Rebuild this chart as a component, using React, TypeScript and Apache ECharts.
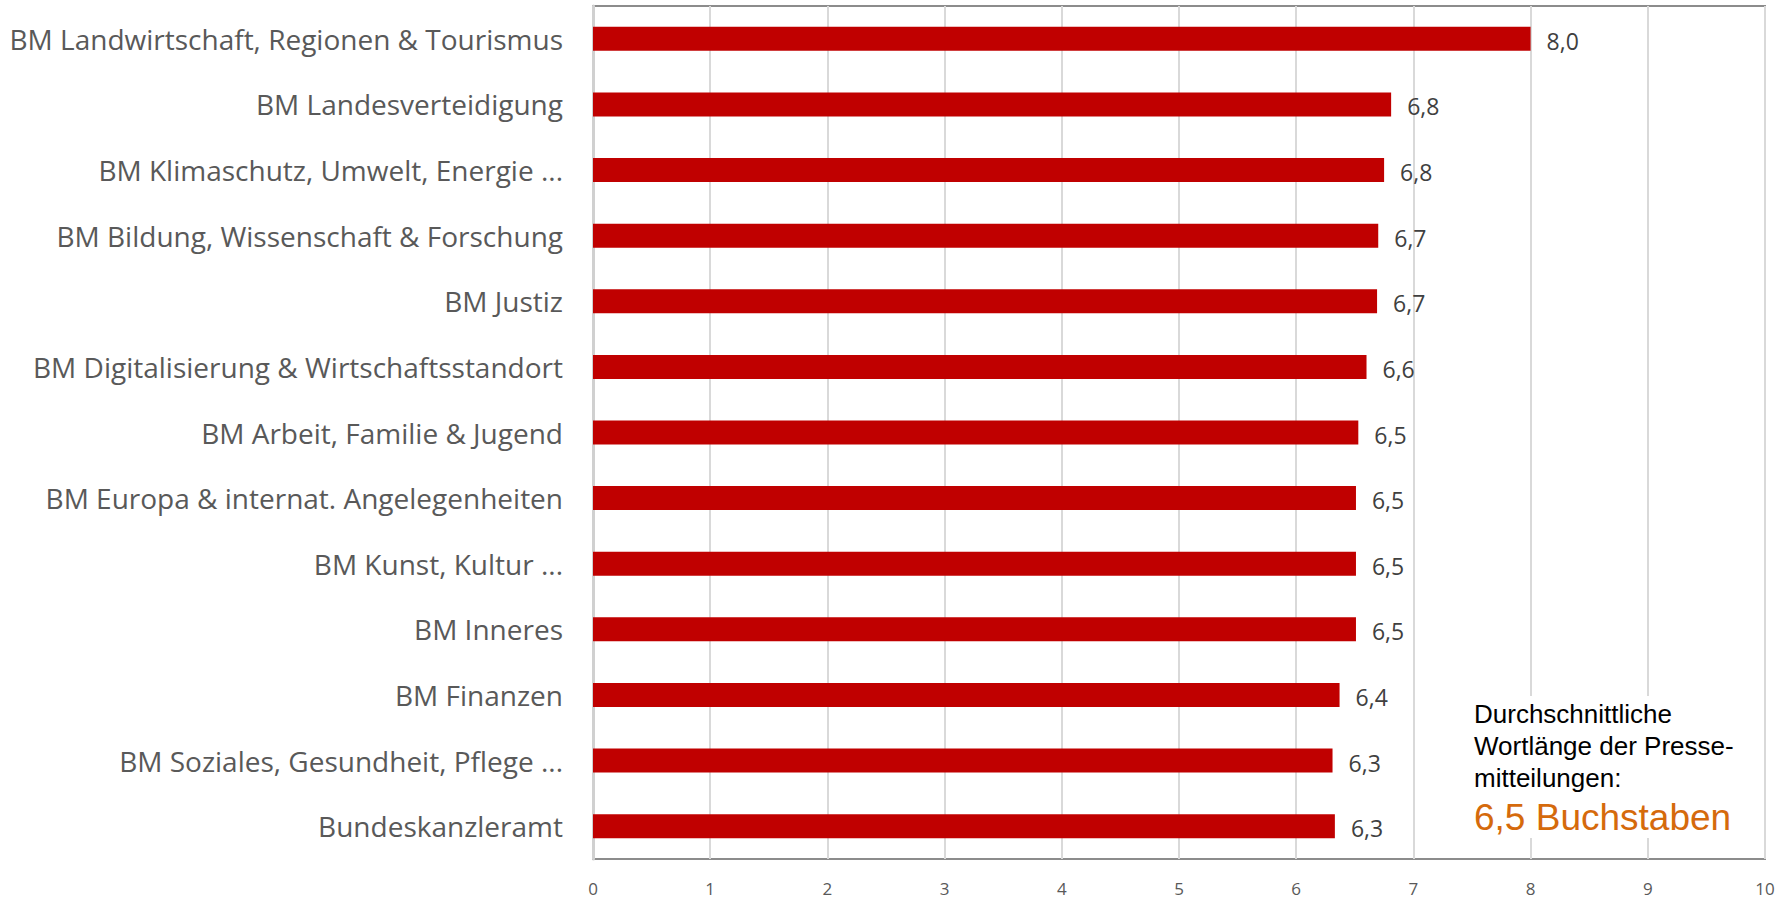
import React, { useEffect, useRef } from "react";
import * as echarts from "echarts";

const categories = [
  "BM Landwirtschaft, Regionen & Tourismus",
  "BM Landesverteidigung",
  "BM Klimaschutz, Umwelt, Energie ...",
  "BM Bildung, Wissenschaft & Forschung",
  "BM Justiz",
  "BM Digitalisierung & Wirtschaftsstandort",
  "BM Arbeit, Familie & Jugend",
  "BM Europa & internat. Angelegenheiten",
  "BM Kunst, Kultur ...",
  "BM Inneres",
  "BM Finanzen",
  "BM Soziales, Gesundheit, Pflege ...",
  "Bundeskanzleramt",
];

const values = [8.0, 6.81, 6.75, 6.7, 6.69, 6.6, 6.53, 6.51, 6.51, 6.51, 6.37, 6.31, 6.33];

const xTicks = [0, 1, 2, 3, 4, 5, 6, 7, 8, 9, 10];

const noteLines = ["Durchschnittliche", "Wortlänge der Presse-", "mitteilungen:"];
const noteValue = "6,5 Buchstaben";

export default function App() {
  const ref = useRef<HTMLDivElement>(null);
  useEffect(() => {
    if (!ref.current) return;
    const chart = echarts.init(ref.current, null, { renderer: "svg" });
    const gl = 593, gt = 6, gw = 1172, gh = 853;
    chart.setOption({
      animation: false,
      backgroundColor: "#ffffff",
      grid: {
        left: gl,
        top: gt,
        width: gw,
        height: gh,
        show: true,
        borderColor: "#8c8c8c",
        borderWidth: 2,
        containLabel: false,
      },
      xAxis: {
        type: "value",
        min: xTicks[0],
        max: xTicks[xTicks.length - 1],
        interval: 1,
        axisLine: { show: false },
        axisTick: { show: false },
        splitLine: { show: true, lineStyle: { color: "#d9d9d9", width: 2 } },
        axisLabel: {
          color: "#595959",
          fontFamily: "Open Sans",
          fontSize: 17,
          margin: 21,
        },
      },
      yAxis: {
        type: "category",
        inverse: true,
        data: categories,
        axisLine: { show: true, lineStyle: { color: "#d0d0d0", width: 3 } },
        axisTick: { show: false },
        axisLabel: {
          color: "#595959",
          fontFamily: "Open Sans",
          fontSize: 28,
          margin: 30,
          padding: [0, 0, 4, 0],
        },
      },
      series: [
        {
          type: "bar",
          data: values,
          barWidth: 24,
          itemStyle: { color: "#C00000" },
          label: {
            show: true,
            position: "right",
            distance: 16,
            color: "#404040",
            fontFamily: "Open Sans",
            fontSize: 23,
            offset: [0, 2],
            formatter: (p: any) => Number(p.value).toFixed(1).replace(".", ","),
          },
        },
      ],
      graphic: [
        {
          type: "rect",
          shape: { x: 1462, y: 696, width: 300, height: 142 },
          style: { fill: "#ffffff" },
          z: 10,
        },
        ...noteLines.map((t, i) => ({
          type: "text",
          x: 1474,
          y: 714 + i * 32,
          z: 11,
          style: {
            text: t,
            fill: "#000000",
            font: "26px 'Liberation Sans', Arial, sans-serif",
            verticalAlign: "middle",
          },
        })),
        {
          type: "text",
          x: 1474,
          y: 817,
          z: 11,
          style: {
            text: noteValue,
            fill: "#D56A0C",
            font: "37px 'Liberation Sans', Arial, sans-serif",
            verticalAlign: "middle",
          },
        },
      ],
    });
    return () => chart.dispose();
  }, []);
  return (
    <div
      ref={ref}
      style={{ position: "fixed", left: 0, top: 0, width: 1792, height: 900 }}
    />
  );
}
